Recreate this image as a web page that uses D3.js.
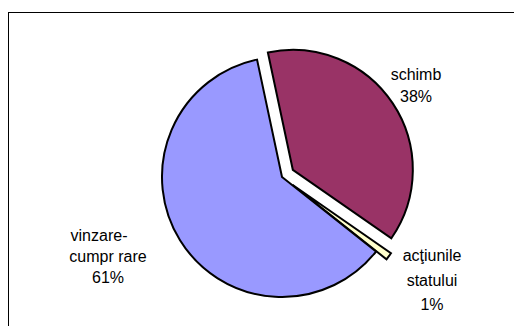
<!DOCTYPE html>
<html>
<head>
<meta charset="utf-8">
<script src="https://cdn.jsdelivr.net/npm/d3@7"></script>
<style>
  html, body { margin: 0; padding: 0; background: #fff; }
  svg { display: block; }
  text { font-family: "Liberation Sans", Arial, sans-serif; font-size: 16px; fill: #000; }
</style>
</head>
<body>
<svg id="chart" width="514" height="326"></svg>
<script>
// Categories, shares (percent) and label lines
const categories = ["schimb", "acţiunile statului", "vinzare-cumpărare"];
const shares = [38, 1, 61];
const colors = ["#993366", "#FFFFCC", "#9999FF"];
const explodeBy = [13, 13, 0];
const labelLines = [
  ["schimb", "38%"],
  ["acţiunile", "statului", "1%"],
  ["vinzare-", "cumpr rare", "61%"]
];

const svg = d3.select("#chart");
const cx = 282, cy = 177, R = 120;
const deg = Math.PI / 180;

// label block layout: centre x, first baseline and line step, relative to pie centre
const labelLayout = [
  { x: 134, y: -97, step: 22 },
  { x: 150, y: 84, step: 24.5 },
  { x: -174, y: 64, step: 21, firstDx: -9 }
];

// chart area border (runs off the right and bottom edges)
svg.append("rect")
  .attr("x", 8.5).attr("y", 12.5)
  .attr("width", 700).attr("height", 500)
  .attr("fill", "#fff").attr("stroke", "#000").attr("stroke-width", 1);

const pie = d3.pie().sort(null).value(d => d)
  .startAngle(-12 * deg).endAngle(-12 * deg + 2 * Math.PI);
const arcs = pie(shares);
const arc = d3.arc().innerRadius(0).outerRadius(R);

const g = svg.append("g").attr("transform", `translate(${cx},${cy})`);

g.selectAll("path.slice")
  .data(arcs)
  .join("path")
  .attr("class", "slice")
  .attr("transform", (d, i) => {
    const a = (d.startAngle + d.endAngle) / 2;
    const e = explodeBy[i];
    return `translate(${e * Math.sin(a)},${-e * Math.cos(a)})`;
  })
  .attr("d", arc)
  .attr("fill", (d, i) => colors[i])
  .attr("stroke", "#000")
  .attr("stroke-width", 2)
  .attr("stroke-linejoin", "miter");

arcs.forEach((d, i) => {
  const L = labelLayout[i];
  const t = g.append("text").attr("text-anchor", "middle");
  labelLines[i].forEach((ln, k) => {
    t.append("tspan")
      .attr("x", L.x + (k === 0 && L.firstDx ? L.firstDx : 0))
      .attr("y", L.y + k * L.step)
      .text(ln);
  });
});
</script>
</body>
</html>
